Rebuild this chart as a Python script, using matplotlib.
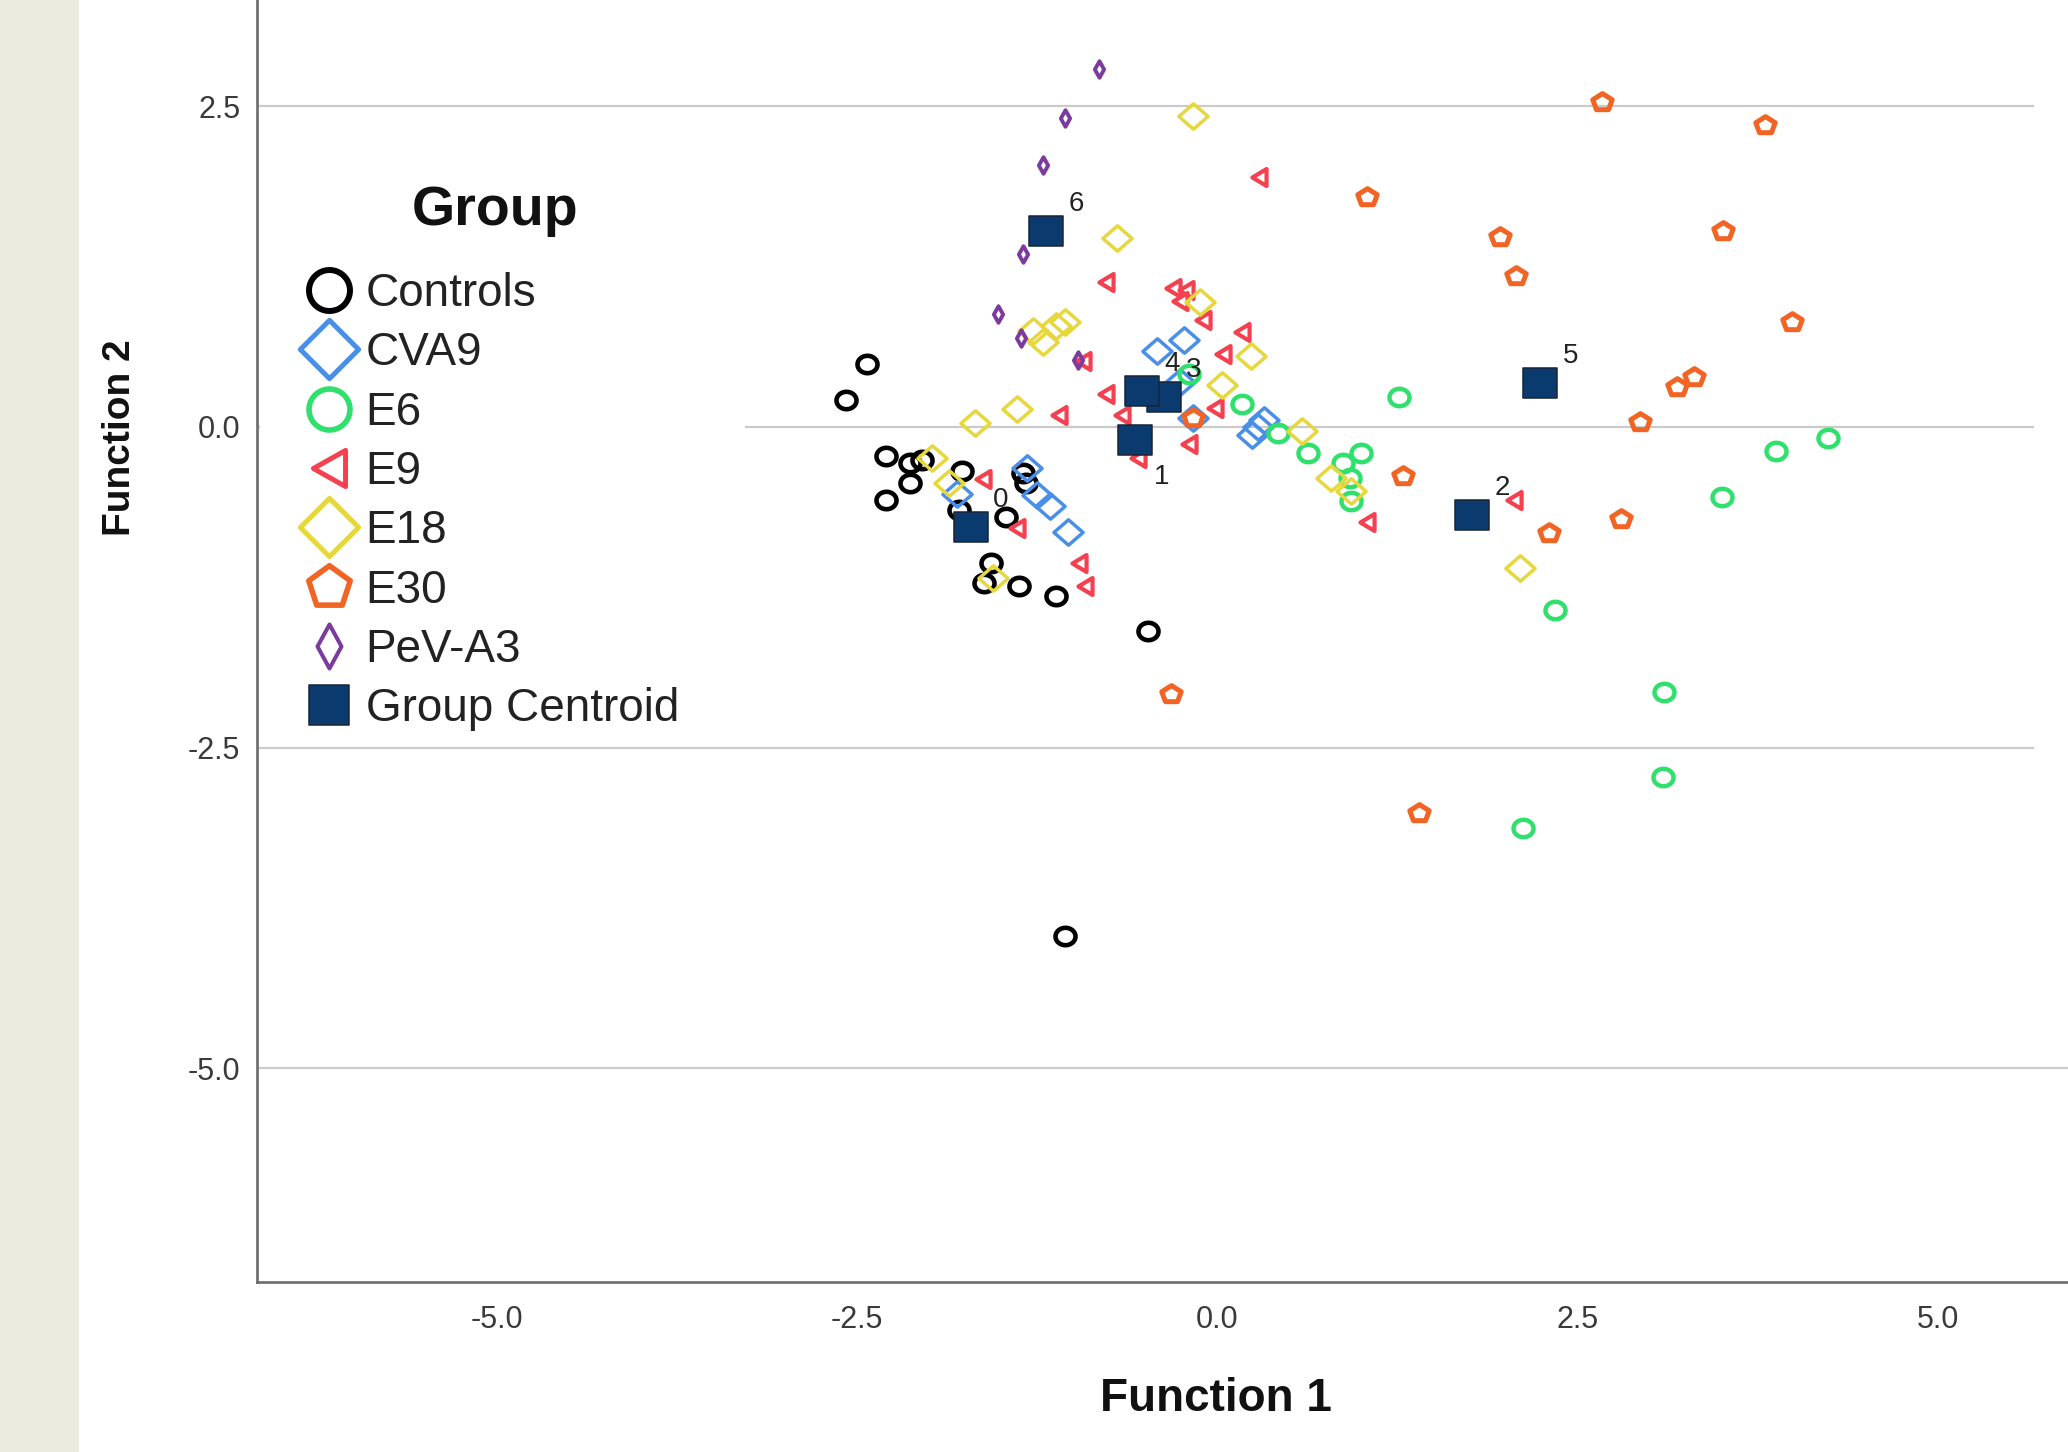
import numpy as np
import matplotlib
matplotlib.use('Agg')
import matplotlib.pyplot as plt
from matplotlib.path import Path
from matplotlib.markers import MarkerStyle
from matplotlib.lines import Line2D
from matplotlib.patches import Rectangle

plt.rcParams['font.family'] = ['Liberation Sans', 'DejaVu Sans']
plt.rcParams['axes.unicode_minus'] = False

# ---------------- data ----------------
groups = ['Controls', 'CVA9', 'E6', 'E9', 'E18', 'E30', 'PeV-A3']

controls_x = [-2.43, -2.58, -2.30, -2.13, -2.05, -2.13, -2.30, -1.77, -1.79, -1.47,
              -1.35, -1.33, -1.57, -1.62, -1.38, -1.12, -0.48, -1.06]
controls_y = [0.49, 0.21, -0.23, -0.28, -0.26, -0.44, -0.57, -0.34, -0.65, -0.70,
              -0.36, -0.44, -1.06, -1.22, -1.24, -1.32, -1.59, -3.97]

cva9_x = [-0.42, -0.23, -0.26, -0.17, 0.24, 0.28, 0.32, -1.81, -1.32, -1.25, -1.16, -1.04]
cva9_y = [0.59, 0.68, 0.35, 0.07, -0.06, 0.00, 0.05, -0.52, -0.32, -0.53, -0.62, -0.82]

e6_x = [-0.20, 0.17, 0.42, 0.63, 0.87, 1.00, 0.92, 0.93, 1.26, 3.88, 4.24, 3.50,
        2.34, 3.10, 3.09, 2.12]
e6_y = [0.41, 0.18, -0.05, -0.20, -0.28, -0.20, -0.40, -0.58, 0.23, -0.19, -0.09, -0.55,
        -1.43, -2.07, -2.73, -3.13]

e9_x = [0.29, -0.77, -0.31, -0.22, -0.26, -0.10, 0.17, 0.04, -0.93, -0.77, -0.66,
        -1.10, -0.02, -0.20, -0.55, -1.63, -1.39, -0.96, -0.92, 1.04, 2.06]
e9_y = [1.95, 1.13, 1.08, 1.07, 0.98, 0.83, 0.74, 0.57, 0.51, 0.26, 0.09,
        0.09, 0.15, -0.13, -0.24, -0.41, -0.79, -1.06, -1.24, -0.74, -0.57]

e18_x = [-0.17, -0.70, -0.12, -1.28, -1.21, -1.12, -1.06, 0.23, 0.03, -1.39, -1.68,
         -1.98, -1.86, 0.59, 0.79, 0.93, -1.56, 2.10]
e18_y = [2.42, 1.47, 0.97, 0.75, 0.66, 0.79, 0.82, 0.55, 0.33, 0.14, 0.03,
         -0.24, -0.44, -0.03, -0.40, -0.50, -1.18, -1.10]

e30_x = [1.04, -0.17, 1.29, -0.32, 1.40, 2.67, 3.80, 1.96, 2.07, 3.51, 3.99, 3.19,
         3.31, 2.93, 2.80, 2.30]
e30_y = [1.79, 0.07, -0.38, -2.08, -3.01, 2.53, 2.35, 1.48, 1.18, 1.53, 0.82, 0.31,
         0.39, 0.04, -0.72, -0.83]

peva3_x = [-0.82, -1.06, -1.21, -1.35, -1.52, -1.36, -0.97]
peva3_y = [2.79, 2.41, 2.04, 1.35, 0.88, 0.69, 0.52]

centroid_labels = ['0', '1', '2', '3', '4', '5', '6']
centroid_x = [-1.71, -0.57, 1.77, -0.37, -0.52, 2.24, -1.19]
centroid_y = [-0.78, -0.10, -0.69, 0.23, 0.28, 0.34, 1.53]

x_ticks = [-5.0, -2.5, 0.0, 2.5, 5.0]
y_ticks = [2.5, 0.0, -2.5, -5.0]

# ---------------- marker shapes ----------------
def poly(pts):
    pts = np.asarray(pts, float)
    verts = np.vstack([pts, pts[:1]])
    codes = [Path.MOVETO] + [Path.LINETO] * (len(pts) - 1) + [Path.CLOSEPOLY]
    return Path(verts, codes)

SX = 1.15  # horizontal stretch of the data markers
t = np.linspace(0, 2 * np.pi, 64, endpoint=False)
ang5 = np.deg2rad(90 + 72 * np.arange(5))

m_circle = poly(np.c_[SX * np.cos(t), np.sin(t)])
m_pent = poly(np.c_[SX * np.cos(ang5), np.sin(ang5)])
m_tri = poly([(-1, 0), (1, 1.2), (1, -1.2)])
m_diam = poly([(SX, 0), (0, 1), (-SX, 0), (0, -1)])
m_thin = poly([(0.56, 0), (0, 1), (-0.56, 0), (0, -1)])
m_sq = poly([(-1.17, -1), (1.17, -1), (1.17, 1), (-1.17, 1)])

l_circle = poly(np.c_[np.cos(t), np.sin(t)])
l_pent = poly(np.c_[np.cos(ang5), np.sin(ang5)])
l_tri = poly([(-1, 0), (1, 1.125), (1, -1.125)])
l_diam = poly([(1, 0), (0, 1), (-1, 0), (0, -1)])
l_thin = poly([(0.545, 0), (0, 1), (-0.545, 0), (0, -1)])
l_sq = poly([(-1, -1), (1, -1), (1, 1), (-1, 1)])

colors = {'Controls': '#000000', 'CVA9': '#4A8FE7', 'E6': '#2FE06C', 'E9': '#F5404F',
          'E18': '#E6D83C', 'E30': '#F26424', 'PeV-A3': '#7A3A9E'}
centroid_face = '#0A3A6E'

series = [
    ('Controls', controls_x, controls_y, m_circle, 14.4, 3.3, l_circle, 29.5, 4.3),
    ('CVA9', cva9_x, cva9_y, m_diam, 21.0, 2.5, l_diam, 42.0, 3.6),
    ('E6', e6_x, e6_y, m_circle, 14.4, 3.2, l_circle, 29.5, 4.0),
    ('E9', e9_x, e9_y, m_tri, 12.2, 3.0, l_tri, 26.0, 3.6),
    ('E18', e18_x, e18_y, m_diam, 21.0, 2.5, l_diam, 42.0, 3.6),
    ('E30', e30_x, e30_y, m_pent, 14.0, 3.6, l_pent, 31.4, 4.0),
    ('PeV-A3', peva3_x, peva3_y, m_thin, 11.9, 2.8, l_thin, 31.7, 2.9),
]

# ---------------- figure ----------------
W, H, DPI = 2068, 1452, 100
fig = plt.figure(figsize=(W / DPI, H / DPI), dpi=DPI)
fig.patch.set_facecolor('white')
fig.add_artist(Rectangle((0, 0), 79 / W, 1, transform=fig.transFigure,
                         facecolor='#ECEBE0', edgecolor='none', zorder=0))

ax = fig.add_axes([257 / W, 1 - 1282 / H, 1 - 257 / W, 1282 / H])
ax.set_facecolor('white')
ax.set_xlim(-6.665, 5.903)
ax.set_ylim(-6.666, 3.328)

for yv in y_ticks:
    ax.axhline(yv, xmin=0, xmax=(1.0 if yv == -5.0 else 0.9807),
               color='#CACACA', lw=1.6, zorder=0.5)

# white legend background hiding the grid lines
ax.add_patch(Rectangle((260 / W, 1 - 740 / H), (745 - 260) / W, (740 - 150) / H,
                       transform=fig.transFigure, facecolor='white',
                       edgecolor='none', zorder=1))

handles = []
for name, xs, ys, mk, ms, mew, lmk, lms, lmew in series:
    ax.plot(xs, ys, linestyle='none',
            marker=MarkerStyle(mk, joinstyle='miter'), markersize=ms,
            markerfacecolor='none', markeredgecolor=colors[name],
            markeredgewidth=mew, zorder=3)
    handles.append(Line2D([], [], linestyle='none',
                          marker=MarkerStyle(lmk, joinstyle='miter'), markersize=lms,
                          markerfacecolor='none', markeredgecolor=colors[name],
                          markeredgewidth=lmew, label=name))

ax.plot(centroid_x, centroid_y, linestyle='none', marker=MarkerStyle(m_sq),
        markersize=24.8, markerfacecolor=centroid_face, markeredgecolor='#1A2433',
        markeredgewidth=1.1, zorder=4)
handles.append(Line2D([], [], linestyle='none', marker=MarkerStyle(l_sq),
                      markersize=29, markerfacecolor=centroid_face,
                      markeredgecolor='#1A2433', markeredgewidth=1.1,
                      label='Group Centroid'))

for lab, cx, cy in zip(centroid_labels, centroid_x, centroid_y):
    off = (18.7, -26.6) if lab == '1' else (21.6, 19.4)
    ax.annotate(lab, (cx, cy), xytext=off, textcoords='offset points',
                ha='center', va='center', fontsize=20, color='#222222', zorder=5)

leg = ax.legend(handles=handles, loc='upper left',
                bbox_to_anchor=(306 / W, 1 - 272 / H), bbox_transform=fig.transFigure,
                frameon=False, fontsize=33, handlelength=1.0, handletextpad=0.3,
                labelspacing=0.335, borderpad=0, borderaxespad=0)
leg.set_zorder(6)
for txt in leg.get_texts():
    txt.set_color('#222222')

fig.text(495 / W, 1 - 211 / H, 'Group', fontsize=40, fontweight='bold',
         ha='center', va='center', color='#111111')

# axes styling
for side in ['top', 'right']:
    ax.spines[side].set_visible(False)
for side in ['left', 'bottom']:
    ax.spines[side].set_color('#6B6B6B')
    ax.spines[side].set_linewidth(1.9)

ax.set_xticks(x_ticks)
ax.set_xticklabels([f'{v:.1f}' for v in x_ticks])
ax.set_yticks(y_ticks)
ax.set_yticklabels([f'{v:.1f}' for v in y_ticks])
ax.tick_params(axis='both', length=0, labelsize=22, labelcolor='#3A3A3A')
ax.tick_params(axis='x', pad=16.5)
ax.tick_params(axis='y', pad=12)

ax.set_xlabel('Function 1', fontsize=33, fontweight='bold', color='#111111')
ax.xaxis.label.set_va('center')
ax.xaxis.set_label_coords(0.5295, -0.0913)
ax.set_ylabel('Function 2', fontsize=28, fontweight='bold', color='#111111')
ax.yaxis.label.set_va('center')
ax.yaxis.label.set_ha('center')
ax.yaxis.set_label_coords(-0.0757, 0.6583)

fig.savefig('out.png', dpi=DPI)
